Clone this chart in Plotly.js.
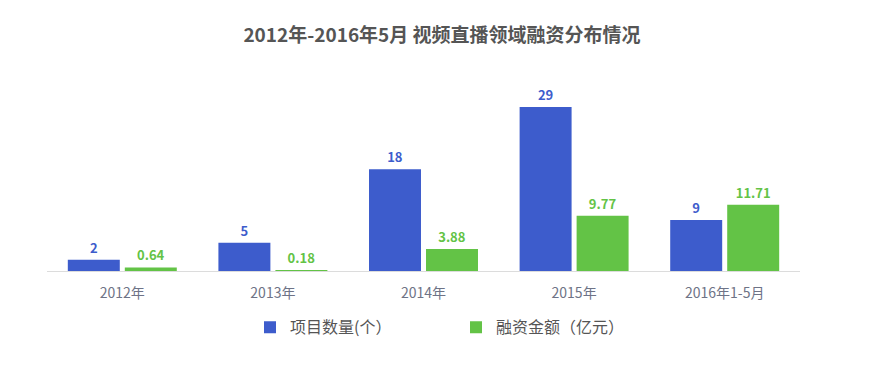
<!DOCTYPE html>
<html>
<head>
<meta charset="utf-8">
<script src="https://cdn.plot.ly/plotly-3.0.1.min.js"></script>
<style>html,body{margin:0;padding:0;background:#fff;}#chart{width:884px;height:369px;}</style>
</head>
<body>
<div id="chart"></div>
<script>
const categories = ["2012年", "2013年", "2014年", "2015年", "2016年1-5月"];
const projectCounts = [2, 5, 18, 29, 9];
const financingAmounts = [0.64, 0.18, 3.88, 9.77, 11.71];
const seriesNames = ["项目数量(个）", "融资金额（亿元）"];
const titleText = "2012年-2016年5月 视频直播领域融资分布情况";

const blue = "#3d5ccc";
const green = "#63c346";
const font = '"Noto Sans CJK SC", "Noto Sans", sans-serif';

const traces = [
  {
    type: "bar", name: seriesNames[0], x: categories, y: projectCounts,
    marker: {color: blue},
    text: projectCounts.map(String), textposition: "outside", cliponaxis: false,
    textfont: {color: blue, size: 13, family: font, weight: "bold"},
    hoverinfo: "x+y"
  },
  {
    type: "bar", name: seriesNames[1], x: categories, y: financingAmounts,
    marker: {color: green},
    text: financingAmounts.map(v => v.toFixed(2)), textposition: "outside", cliponaxis: false,
    textfont: {color: green, size: 13, family: font, weight: "bold"},
    hoverinfo: "x+y"
  }
];

const layout = {
  width: 884, height: 369,
  margin: {l: 47, r: 84, t: 90, b: 98},
  paper_bgcolor: "#fff", plot_bgcolor: "#fff",
  font: {family: font, color: "#555"},
  title: {text: titleText, x: 0.5, xref: "container", y: 0.905, yref: "container", yanchor: "middle",
          font: {size: 19, color: "#555", family: font, weight: "bold"}},
  barmode: "group", bargap: 0.243, bargroupgap: 0.088,
  xaxis: {
    type: "category", showline: true, linecolor: "#dcdcdc", linewidth: 1,
    ticks: "", tickfont: {size: 14, color: "#6e7386", family: font},
    ticklabelstandoff: 9,
    showgrid: false, zeroline: false, fixedrange: true
  },
  yaxis: {
    range: [0, 32], visible: false, showgrid: false, zeroline: false, fixedrange: true
  },
  showlegend: true,
  legend: {
    orientation: "h", x: 250 / 884, xanchor: "left", xref: "container",
    y: 0.113, yref: "container", yanchor: "middle",
    font: {size: 16, color: "#555", family: font},
    entrywidth: 161, entrywidthmode: "pixels",
    traceorder: "normal"
  }
};

Plotly.newPlot("chart", traces, layout, {displayModeBar: false, staticPlot: true});
</script>
</body>
</html>
